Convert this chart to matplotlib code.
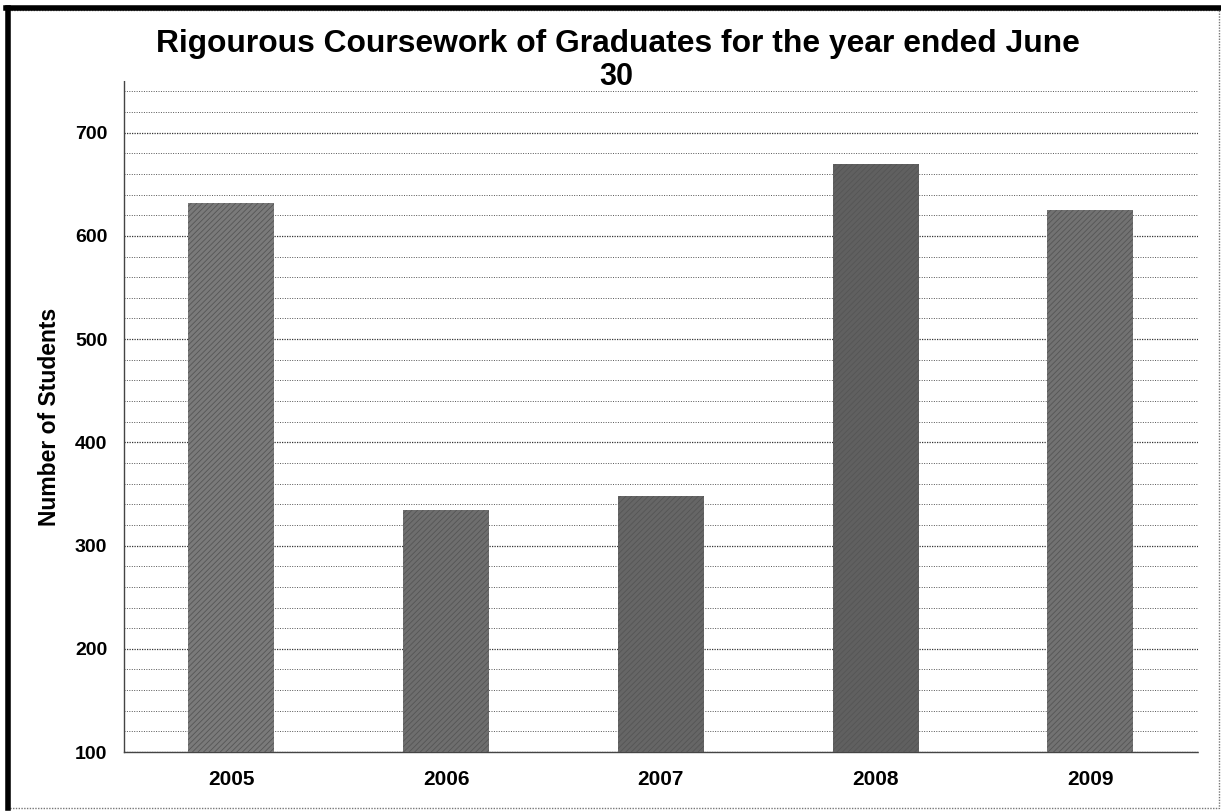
import matplotlib
matplotlib.use("Agg")
import matplotlib.pyplot as plt
from matplotlib.patches import Rectangle

plt.rcParams["font.family"] = ["Liberation Sans", "DejaVu Sans"]
plt.rcParams["hatch.linewidth"] = 0.6

years = ["2005", "2006", "2007", "2008", "2009"]
students = [632, 334, 348, 670, 625]
bar_colors = ["#7a7a7a", "#6e6e6e", "#666666", "#606060", "#727272"]

fig = plt.figure(figsize=(12.21, 8.11), dpi=100)
ax = fig.add_axes([0.1016, 0.0727, 0.8794, 0.8274])

x = range(len(years))
ax.bar(x, students, width=0.4, color=bar_colors, edgecolor="#555555",
       hatch="//////", linewidth=0, zorder=3)

ax.set_xlim(-0.5, 4.5)
ax.set_ylim(100, 750)
ax.set_yticks(range(100, 701, 100))
ax.set_yticks(range(100, 741, 20), minor=True)
ax.set_xticks(list(x))
ax.set_xticklabels(years, fontsize=15, fontweight="bold")
for lbl in ax.get_yticklabels():
    lbl.set_fontsize(14)
    lbl.set_fontweight("bold")
ax.tick_params(axis="both", which="both", length=0)
ax.tick_params(axis="x", pad=13)
ax.tick_params(axis="y", pad=12)

ax.grid(axis="y", which="major", color="#333333", linestyle=(0, (1, 1)), linewidth=0.9, zorder=1)
ax.grid(axis="y", which="minor", color="#555555", linestyle=(0, (1, 1.5)), linewidth=0.7, zorder=1)

for side in ("top", "right"):
    ax.spines[side].set_visible(False)
for side in ("left", "bottom"):
    ax.spines[side].set_linestyle((0, (1, 1)))
    ax.spines[side].set_color("#444444")
    ax.spines[side].set_linewidth(1.0)

ax.set_ylabel("Number of Students", fontsize=16.5, fontweight="bold", labelpad=10)
fig.text(0.506, 0.946, "Rigourous Coursework of Graduates for the year ended June",
         ha="center", va="center", fontsize=22.9, fontweight="bold")
fig.text(0.505, 0.905, "30", ha="center", va="center", fontsize=22, fontweight="bold")

# page frame: heavy edge on the left and top, faint dotted edge elsewhere
fig.patches.append(Rectangle((0.006, 0.004), 0.992, 0.984, transform=fig.transFigure,
                             fill=False, edgecolor="#777777", linewidth=1.0,
                             linestyle=(0, (1, 1))))
fig.lines.append(plt.Line2D([0.0068, 0.0068], [0.004, 0.99], transform=fig.transFigure,
                            color="black", linewidth=4))
fig.lines.append(plt.Line2D([0.005, 0.998], [0.99, 0.99], transform=fig.transFigure,
                            color="black", linewidth=4))

fig.savefig("out.png", dpi=100)
